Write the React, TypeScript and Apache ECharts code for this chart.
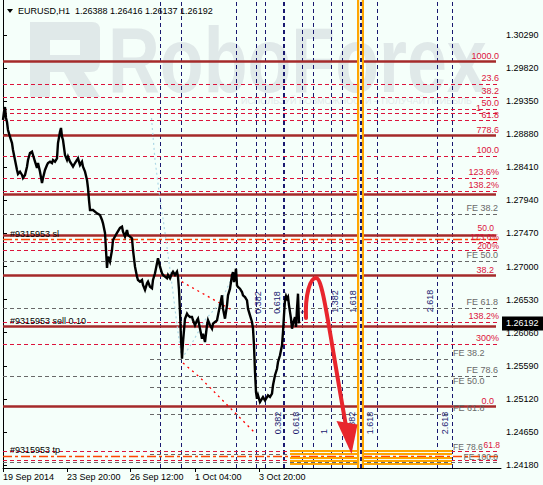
import React, { useEffect, useRef } from "react";
import * as echarts from "echarts";

// ---- price path (bar index, price) ----
const priceBars = [0,1,2,3,4,5,7,9,10,12,14,15,17,19,20,22,24,25,27,29,30,32,34,35,37,39,40,42,44,45,47,49,50,52,54,55,57,58,59,60,62,64,65,67,69,70,72,74,75,77,79,80,82,84,85,86,87,90,94,97,99,100,102,103,104,105,107,109,110,114,117,119,120,122,124,125,127,129,130,132,134,135,137,139,140,142,144,145,147,149,150,152,154,155,157,159,160,162,164,165,167,169,170,172,174,175,176,177,178,179,180,182,184,185,187,189,190,192,194,195,197,199,200,202,204,205,207,209,210,212,214,215,217,219,220,222,224,225,227,229,230,231,232,233,234,235,237,239,240,242,244,245,247,249,250,251,252,253,254,255,257,259,260,262,264,265,267,269,270,272,274,275,277,279,280,281,282,283,284,285,286,288,289,290,292,293,294,295,296];
const priceValues = [1.29082,1.29196,1.29267,1.29111,1.29054,1.2894,1.28841,1.28755,1.28656,1.28514,1.28372,1.28315,1.28348,1.28301,1.28258,1.28301,1.28419,1.28514,1.28613,1.28632,1.28585,1.2849,1.284,1.28471,1.28348,1.28187,1.28258,1.28372,1.28443,1.28471,1.2849,1.28471,1.28514,1.2849,1.28538,1.28755,1.28916,1.28969,1.28845,1.28798,1.28585,1.28514,1.28561,1.2849,1.28443,1.28419,1.28471,1.28514,1.28538,1.28443,1.2849,1.28419,1.28348,1.2823,1.28116,1.27945,1.27803,1.27803,1.27756,1.27732,1.27661,1.27614,1.27477,1.27235,1.26979,1.2714,1.27069,1.27235,1.27377,1.27477,1.27548,1.27566,1.27495,1.27424,1.27519,1.27448,1.27424,1.27401,1.27235,1.26998,1.26856,1.26809,1.26785,1.26809,1.26738,1.26667,1.26762,1.26785,1.26714,1.26691,1.26809,1.26904,1.27046,1.27117,1.26998,1.26904,1.2688,1.26856,1.26833,1.2688,1.26833,1.26904,1.26927,1.2688,1.26927,1.26856,1.26667,1.26354,1.25975,1.2569,1.25928,1.26259,1.2633,1.26307,1.26283,1.26283,1.26236,1.26165,1.26236,1.26259,1.26117,1.25975,1.26046,1.25928,1.26165,1.26236,1.26165,1.26117,1.26188,1.26212,1.26236,1.26307,1.26449,1.26591,1.26401,1.26259,1.26449,1.26591,1.26685,1.26876,1.26922,1.2678,1.26851,1.26969,1.26733,1.26709,1.26685,1.26638,1.26591,1.26567,1.2652,1.26401,1.26307,1.26212,1.26117,1.25881,1.25501,1.25217,1.25122,1.2517,1.25075,1.25122,1.25146,1.25099,1.25146,1.2517,1.25146,1.25193,1.25313,1.25455,1.25548,1.25644,1.25739,1.25881,1.2607,1.26311,1.26524,1.26581,1.26543,1.26567,1.26449,1.26259,1.26117,1.26188,1.26283,1.26141,1.26401,1.26614,1.26192];

const titleText = "EURUSD,H1  1.26388 1.26416 1.26137 1.26192";
const lastPrice = 1.26192;

// ---- axes ----
const yTickValues = [1.2418,1.2465,1.2512,1.2559,1.2606,1.2653,1.27,1.2747,1.2794,1.2841,1.2888,1.2935,1.2982,1.3029];
const timeTickBars = [0, 64, 127, 192, 256];
const timeTickLabels = ["19 Sep 2014", "23 Sep 20:00", "26 Sep 12:00", "1 Oct 04:00", "3 Oct 20:00"];

// ---- horizontal levels ----
const retraceLevels = [1.29911, 1.28865, 1.28031, 1.27448, 1.2687, 1.26155, 1.25008];
const retraceLabels = ["1000.0", "778.6", "", "50.0", "38.2", "", "0.0"];
const expansionLevels = [1.2959, 1.29405, 1.29234, 1.29177, 1.29072, 1.28571, 1.28254, 1.28073, 1.27344, 1.27235, 1.26208, 1.25899, 1.24379, 1.24251];
const expansionLabels = ["23.6", "38.2", "50.0", "", "61.8", "100.0", "123.6%", "138.2%", "173.6%", "200%", "138.2%", "300%", "61.8", ""];
const feUpperLevels = [1.27742, 1.27074, 1.26411, 1.2544, 1.24213];
const feUpperLabels = ["FE 38.2", "FE 50.0", "FE 61.8", "FE 78.6", "FE 100.0"];
const feLowerLevels = [1.25682, 1.25284, 1.249, 1.24332];
const feLowerLabels = ["FE 38.2", "FE 50.0", "FE 61.8", "FE 78.6"];
const orderLineLevels = [1.27391, 1.24308];
const orderLabelLevels = [1.27391, 1.26155, 1.24308];
const orderLabels = ["#9315953 sl", "#9315953 sell 0.10", "#9315953 tp"];
const highlightLevels = [1.24386, 1.24336, 1.24287, 1.24237, 1.24194];

// ---- vertical time zones ----
const timeZoneBars = [157, 178.7, 233.7, 253.7, 262.7, 299.5, 310.5, 328.7, 339.7, 374.3, 434.3, 449.3];
const boldZoneBar = 281;
const orangeZoneBar = 357.7;
const zoneUpperLabels = ["0.382", "0.618", "1", "1.382", "1.618", "2.618"];
const zoneLowerLabels = ["0.382", "0.618", "1", "1.382", "1.618", "2.618"];

// ---- dotted trend lines ----
const arcLeftBars = [148.5, 152, 156.5, 160.5, 165.3, 170.3, 174, 178.7];
const arcLeftValues = [1.29111, 1.28514, 1.28016, 1.27633, 1.2714, 1.26596, 1.26169, 1.2569];
const arcRightBars = [178.7, 189, 202, 217, 230.3];
const arcRightValues = [1.2569, 1.25913, 1.2624, 1.26482, 1.26876];
const redLine1Bars = [178.7, 229];
const redLine1Values = [1.26785, 1.26382];
const redLine2Bars = [180, 197, 252];
const redLine2Values = [1.25629, 1.25423, 1.24635];

const Y_MIN = 1.241374;
const Y_MAX = 1.307873;
const X_MAX = 498;
const END = 493;
const FONT = "'Liberation Sans', Arial, sans-serif";
const RED = "#dc143c";
const BROWN = "#a52a2a";
const GRAY = "#696969";
const NAVY = "#191970";

function pairs(xs: number[], ys: number[]) {
  return xs.map((x, i) => [x, ys[i]]);
}

function mlSeries(data: any[], lineStyle: any, z: number) {
  return {
    type: "line",
    data: [],
    silent: true,
    markLine: {
      silent: true,
      z,
      symbol: ["none", "none"],
      label: { show: false },
      lineStyle,
      data,
      animation: false,
    },
  };
}

export default function App() {
  const ref = useRef<HTMLDivElement>(null);
  useEffect(() => {
    document.body.style.margin = "0";
    const chart = echarts.init(ref.current!, null, { renderer: "svg" });
    const seg = (v: number, a = 0, b = END) => [{ coord: [a, v] }, { coord: [b, v] }];

    const series: any[] = [
      mlSeries(timeZoneBars.map((b) => ({ xAxis: b })), { color: NAVY, width: 1, type: [4, 3] }, 1),
      mlSeries([{ xAxis: boldZoneBar }], { color: NAVY, width: 2, type: [4, 3] }, 1),
      mlSeries(expansionLevels.map((v) => seg(v, 0, 495)), { color: RED, width: 1, type: [4, 3] }, 2),
      mlSeries(feUpperLevels.map((v) => seg(v, 0, 495)), { color: GRAY, width: 1, type: [4, 3] }, 2),
      mlSeries(feLowerLevels.map((v) => seg(v, 147, 449)), { color: GRAY, width: 1, type: [4, 3] }, 2),
      mlSeries(orderLineLevels.map((v) => seg(v, 0, 495)), { color: "#ff4500", width: 1.3, type: [9, 3, 3, 3] }, 3),
      mlSeries(retraceLevels.map((v) => seg(v, 0, END)), { color: BROWN, width: 2.5, type: "solid" }, 3),
      mlSeries(highlightLevels.map((v) => seg(v, 287, 449)), { color: "#ffa500", width: 2.2, type: "solid" }, 4),
      mlSeries([{ xAxis: orangeZoneBar }], { color: "#ffa500", width: 7, type: "solid" }, 6),
      mlSeries([{ xAxis: orangeZoneBar }], { color: "#f5fffa", width: 2.6, type: "solid" }, 7),
      mlSeries([{ xAxis: orangeZoneBar - 0.3 }], { color: NAVY, width: 2, type: [4, 3] }, 8),
      {
        type: "line", data: pairs(arcLeftBars, arcLeftValues), symbol: "none", silent: true, z: 8,
        lineStyle: { color: "#add8e6", width: 1.2, type: [2, 3] },
      },
      {
        type: "line", data: pairs(arcRightBars, arcRightValues), symbol: "none", silent: true, z: 8,
        lineStyle: { color: "#add8e6", width: 1.2, type: [2, 3] },
      },
      {
        type: "line", data: pairs(redLine1Bars, redLine1Values), symbol: "none", silent: true, z: 8,
        lineStyle: { color: "#ff0000", width: 1.3, type: [2, 4] },
      },
      {
        type: "line", data: pairs(redLine2Bars, redLine2Values), symbol: "none", silent: true, z: 8,
        lineStyle: { color: "#ff0000", width: 1.3, type: [2, 4] },
      },
      {
        type: "line", data: pairs(priceBars, priceValues), symbol: "none", silent: true, z: 10,
        lineStyle: { color: "#000", width: 2.4, join: "miter" },
      },
    ];

    chart.setOption({
      animation: false,
      backgroundColor: "#f5fffa",
      grid: { left: 3, right: 42, top: 0, bottom: 17, containLabel: false },
      xAxis: {
        type: "value", min: 0, max: X_MAX, position: "bottom",
        axisLine: { show: true, onZero: false, lineStyle: { color: "#000", width: 1 } },
        axisTick: { show: true, length: 4, customValues: timeTickBars, lineStyle: { color: "#000" } },
        axisLabel: {
          show: true, customValues: timeTickBars, align: "left", margin: 4,
          color: "#000", fontSize: 9, fontFamily: FONT,
          formatter: (v: number) => timeTickLabels[timeTickBars.indexOf(v)] ?? "",
        },
        splitLine: { show: false },
      },
      yAxis: [
        {
          type: "value", position: "right", min: Y_MIN, max: Y_MAX,
          axisLine: { show: true, lineStyle: { color: "#000", width: 1 } },
          axisTick: { show: true, length: 4, customValues: yTickValues, lineStyle: { color: "#000" } },
          axisLabel: {
            show: true, customValues: yTickValues, margin: 5, color: "#000", fontSize: 9, fontFamily: FONT,
            formatter: (v: number) => v.toFixed(5),
          },
          splitLine: { show: false },
        },
        {
          type: "value", position: "left", min: Y_MIN, max: Y_MAX,
          axisLine: { show: true, lineStyle: { color: "#000", width: 1 } },
          axisTick: { show: false }, axisLabel: { show: false }, splitLine: { show: false },
        },
      ],
      series,
    });

    const py = (v: number) => chart.convertToPixel({ yAxisIndex: 0 }, v) as number;
    const txt = (text: string, x: number, y: number, fill: string, align = "right", size = 9, extra: any = {}) => ({
      type: "text", x, y, z: 50, silent: true,
      style: { text, fill, fontSize: size, fontFamily: FONT, align, verticalAlign: "middle" },
      ...extra,
    });

    const graphic: any[] = [];
    // watermark
    echarts.graphic.registerShape(
      "rfLogo",
      echarts.graphic.extendPath(
        "M30,22 H92 Q100,22 100,30 V62 Q100,72 90,72 H84 L100,97 H78 L64,72 H50 V97 H30 Z M50,40 V55 H80 V40 Z",
        {}
      )
    );
    graphic.push({ type: "rfLogo", x: 0, y: 0, z: 0, silent: true, style: { fill: "#e0e9e9" } });
    graphic.push({
      type: "text", x: 108, y: 60, z: 0, silent: true, scaleX: 0.78,
      style: { text: "RoboForex", fill: "#e0e9e9", fontSize: 92, fontWeight: "bold", fontFamily: FONT, align: "left", verticalAlign: "middle" },
    });
    graphic.push({
      type: "text", x: 472, y: 101, z: 0, silent: true,
      style: { text: "ИСПОЛЬЗУЙ ВОЗМОЖНОСТИ – ПОЛУЧАЙ ПРИБЫЛЬ", fill: "#e3eaea", fontSize: 9, fontFamily: FONT, align: "right", verticalAlign: "middle" },
    });

    // title
    graphic.push({ type: "polygon", z: 50, silent: true, shape: { points: [[7, 9], [13, 9], [10, 13]] }, style: { fill: "#000" } });
    graphic.push(txt(titleText, 18, 11, "#000", "left"));

    // level labels
    const tight: Record<number, number> = { 3: -7.5 };
    retraceLevels.forEach((v, i) => {
      if (!retraceLabels[i]) return;
      const right = i < 2 ? 499 : 494;
      graphic.push(txt(retraceLabels[i], right, py(v) + (tight[i] ?? -5.5), RED, "right", i === 3 ? 8.5 : 9));
    });
    const expOffset: Record<number, number> = { 8: -5.5, 9: -4.5 };
    expansionLevels.forEach((v, i) => {
      if (!expansionLabels[i]) return;
      const small = i === 8 || i === 9 || i === 12;
      graphic.push(txt(expansionLabels[i], i === 12 ? 500 : 499, py(v) + (expOffset[i] ?? -6), RED, "right", small ? 8.5 : 9));
    });
    graphic.push(txt("1", 481, 108, RED));
    feUpperLevels.forEach((v, i) =>
      graphic.push(txt(feUpperLabels[i], 498, py(v) - (i === 4 ? 5.5 : 6), GRAY, "right", i === 4 ? 8.5 : 9))
    );
    feLowerLevels.forEach((v, i) =>
      graphic.push(txt(feLowerLabels[i], 453, py(v) - (i === 3 ? 7 : 6), GRAY, "left", i === 3 ? 8.5 : 9))
    );
    orderLabelLevels.forEach((v, i) => graphic.push(txt(orderLabels[i], 10, py(v) - 5.5, "#000", "left")));

    // time zone labels (rotated)
    const upX = [258.3, 276.7, 304.3, 335, 352.7, 430];
    const upY = [302.5, 302.5, 312, 301.5, 301.5, 301];
    const loX = [278.3, 295.7, 324.3, 351.7, 370, 445];
    const loY = [423, 423, 431.5, 423, 423, 423];
    zoneUpperLabels.forEach((t, i) =>
      graphic.push({
        type: "text", x: upX[i], y: upY[i], rotation: Math.PI / 2, z: 50, silent: true,
        style: { text: t, fill: NAVY, fontSize: 9, fontFamily: FONT, align: "center", verticalAlign: "middle" },
      })
    );
    zoneLowerLabels.forEach((t, i) =>
      graphic.push({
        type: "text", x: loX[i], y: loY[i], rotation: Math.PI / 2, z: 50, silent: true,
        style: { text: t, fill: NAVY, fontSize: 9, fontFamily: FONT, align: "center", verticalAlign: "middle" },
      })
    );

    // red arrow annotation
    const ARROW = "#e8262d";
    graphic.push({
      type: "bezierCurve", z: 60, silent: true,
      shape: { x1: 306, y1: 318, cpx1: 305, cpy1: 295, cpx2: 310, cpy2: 278, x2: 316, y2: 278 },
      style: { stroke: ARROW, lineWidth: 4, fill: "none", lineCap: "round" },
    });
    graphic.push({
      type: "bezierCurve", z: 60, silent: true,
      shape: { x1: 316, y1: 278, cpx1: 323, cpy1: 278, cpx2: 328, cpy2: 325, x2: 346, y2: 426 },
      style: { stroke: ARROW, lineWidth: 4, fill: "none", lineCap: "round" },
    });
    graphic.push({
      type: "polygon", z: 60, silent: true,
      shape: { points: [[336.5, 421], [357.5, 424.5], [351.5, 454]] },
      style: { fill: ARROW },
    });

    // current price tag
    const lp = py(lastPrice);
    graphic.push({ type: "rect", z: 60, silent: true, shape: { x: 502, y: lp - 7, width: 41, height: 14 }, style: { fill: "#000" } });
    graphic.push(txt(lastPrice.toFixed(5), 506, lp, "#fff", "left", 9, { z: 61 }));

    chart.setOption({ graphic });

    return () => chart.dispose();
  }, []);

  return <div ref={ref} style={{ position: "absolute", left: 0, top: 0, width: 543, height: 485 }} />;
}
